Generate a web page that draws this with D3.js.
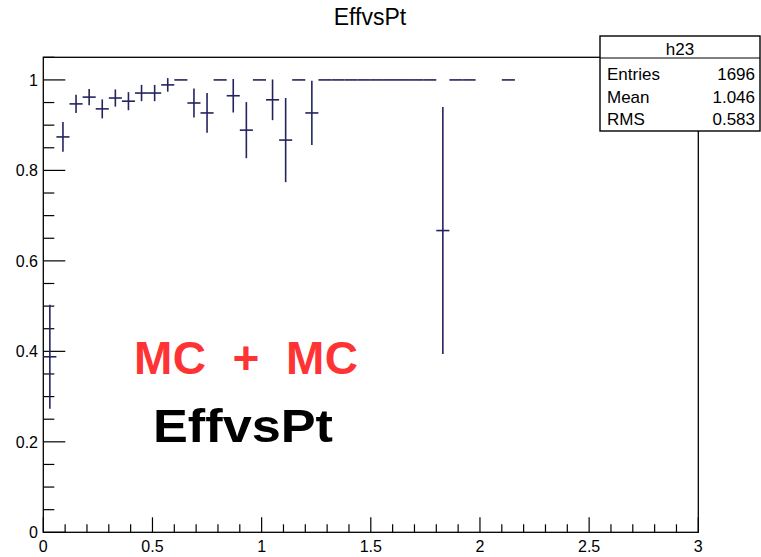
<!DOCTYPE html>
<html>
<head>
<meta charset="utf-8">
<script src="https://cdn.jsdelivr.net/npm/d3@7"></script>
<style>
  html, body { margin: 0; padding: 0; background: #fff; }
  svg { display: block; font-family: "Liberation Sans", Arial, Helvetica, sans-serif; }
</style>
</head>
<body>
<svg id="chart" width="761" height="557"></svg>
<script>
// ---- data ----
const binWidth = 0.06;
const ptCenters = [0.03, 0.09, 0.15, 0.21, 0.27, 0.33, 0.39, 0.45, 0.51, 0.57,
                   0.63, 0.69, 0.75, 0.81, 0.87, 0.93, 0.99, 1.05, 1.11, 1.17,
                   1.23, 1.29, 1.35, 1.41, 1.47, 1.53, 1.59, 1.65, 1.71, 1.77,
                   1.83, 1.89, 1.95, 2.13];
const effValues = [0.388, 0.874, 0.947, 0.962, 0.936, 0.960, 0.953, 0.971, 0.971, 0.989,
                   1.000, 0.949, 0.927, 1.000, 0.965, 0.889, 1.000, 0.956, 0.867, 1.000,
                   0.927, 1.000, 1.000, 1.000, 1.000, 1.000, 1.000, 1.000, 1.000, 1.000,
                   0.667, 1.000, 1.000, 1.000];
const effErrors = [0.115, 0.033, 0.020, 0.018, 0.021, 0.019, 0.020, 0.018, 0.018, 0.015,
                   0.000, 0.032, 0.044, 0.000, 0.037, 0.062, 0.000, 0.045, 0.093, 0.000,
                   0.071, 0.000, 0.000, 0.000, 0.000, 0.000, 0.000, 0.000, 0.000, 0.000,
                   0.273, 0.000, 0.000, 0.000];
const xTickLabels = ["0", "0.5", "1", "1.5", "2", "2.5", "3"];
const yTickLabels = ["0", "0.2", "0.4", "0.6", "0.8", "1"];
const statsLabels = ["Entries", "Mean", "RMS"];
const statsValues = ["1696", "1.046", "0.583"];
const histName = "h23";
const titleText = "EffvsPt";
const label1 = "MC + MC";
const label2 = "EffvsPt";

// ---- layout ----
const svg = d3.select("#chart");
const frame = {left: 43.3, right: 698.3, top: 57.3, bottom: 532.3};
const x = d3.scaleLinear().domain([0, 3]).range([frame.left, frame.right]);
const y = d3.scaleLinear().domain([0, 1.05]).range([frame.bottom, frame.top]);
const lineCol = "#25235f";

// frame
svg.append("rect")
  .attr("x", frame.left).attr("y", frame.top)
  .attr("width", frame.right - frame.left).attr("height", frame.bottom - frame.top)
  .attr("fill", "none").attr("stroke", "#000").attr("stroke-width", 1.3);

// x axis ticks
const xMajor = xTickLabels.map(Number);
const xMinor = d3.range(0, 31).map(i => i / 10).filter(v => Math.abs(v * 2 - Math.round(v * 2)) > 1e-6);
const gx = svg.append("g");
gx.selectAll("line.maj").data(xMajor).join("line")
  .attr("x1", d => x(d)).attr("x2", d => x(d))
  .attr("y1", frame.bottom).attr("y2", frame.bottom - 15)
  .attr("stroke", "#000").attr("stroke-width", 1.2);
gx.selectAll("line.min").data(xMinor).join("line")
  .attr("x1", d => x(d)).attr("x2", d => x(d))
  .attr("y1", frame.bottom).attr("y2", frame.bottom - 8)
  .attr("stroke", "#000").attr("stroke-width", 1.2);
gx.selectAll("text").data(xTickLabels).join("text")
  .attr("x", d => x(+d)).attr("y", 552)
  .attr("text-anchor", "middle").attr("font-size", 16).attr("fill", "#000")
  .text(d => d);

// y axis ticks
const yMajor = yTickLabels.map(Number);
const yMinor = d3.range(0, 22).map(i => i * 0.05).filter(v => v <= 1.05 + 1e-9 && Math.abs(v * 5 - Math.round(v * 5)) > 1e-6);
const gy = svg.append("g");
gy.selectAll("line.maj").data(yMajor).join("line")
  .attr("x1", frame.left).attr("x2", frame.left + 22)
  .attr("y1", d => y(d)).attr("y2", d => y(d))
  .attr("stroke", "#000").attr("stroke-width", 1.2);
gy.selectAll("line.min").data(yMinor).join("line")
  .attr("x1", frame.left).attr("x2", frame.left + 11)
  .attr("y1", d => y(d)).attr("y2", d => y(d))
  .attr("stroke", "#000").attr("stroke-width", 1.2);
gy.selectAll("text").data(yTickLabels).join("text")
  .attr("x", 38).attr("y", d => y(+d) + 6)
  .attr("text-anchor", "end").attr("font-size", 16).attr("fill", "#000")
  .text(d => d);

// data points with error bars
const pts = ptCenters.map((c, i) => ({c, v: effValues[i], e: effErrors[i]}));
const gd = svg.append("g").attr("stroke", lineCol).attr("stroke-width", 1.6);
gd.selectAll("line.h").data(pts).join("line")
  .attr("x1", d => x(d.c - binWidth / 2)).attr("x2", d => x(d.c + binWidth / 2))
  .attr("y1", d => y(d.v)).attr("y2", d => y(d.v));
gd.selectAll("line.v").data(pts.filter(d => d.e > 0)).join("line")
  .attr("x1", d => x(d.c)).attr("x2", d => x(d.c))
  .attr("y1", d => y(Math.min(d.v + d.e, 1.05))).attr("y2", d => y(d.v - d.e));

// title
svg.append("text").attr("x", 370).attr("y", 25)
  .attr("text-anchor", "middle").attr("font-size", 23).attr("fill", "#000")
  .text(titleText);

// stats box
const box = {x: 600, y: 36, w: 160, h: 95};
svg.append("rect").attr("x", box.x).attr("y", box.y).attr("width", box.w).attr("height", box.h)
  .attr("fill", "#fff").attr("stroke", "#000").attr("stroke-width", 1.4);
svg.append("line").attr("x1", box.x).attr("x2", box.x + box.w).attr("y1", 58).attr("y2", 58)
  .attr("stroke", "#000").attr("stroke-width", 1.2);
svg.append("text").attr("x", box.x + box.w / 2).attr("y", 55)
  .attr("text-anchor", "middle").attr("font-size", 17).text(histName);
const rowY = [80, 102.5, 125];
svg.selectAll("text.sl").data(statsLabels).join("text").attr("class", "sl")
  .attr("x", 607).attr("y", (d, i) => rowY[i]).attr("font-size", 17).text(d => d);
svg.selectAll("text.sv").data(statsValues).join("text").attr("class", "sv")
  .attr("x", 755).attr("y", (d, i) => rowY[i]).attr("text-anchor", "end").attr("font-size", 17).text(d => d);

// big labels
svg.append("text").attr("x", 134).attr("y", 374)
  .attr("font-size", 46).attr("font-weight", "bold").attr("fill", "#ff3333")
  .attr("textLength", 224).attr("lengthAdjust", "spacing")
  .style("white-space", "pre").text(label1.replace(/ /g, "  "));
svg.append("text").attr("x", 153).attr("y", 442)
  .attr("font-size", 46).attr("font-weight", "bold").attr("fill", "#000")
  .attr("textLength", 180).attr("lengthAdjust", "spacingAndGlyphs")
  .text(label2);
</script>
</body>
</html>
